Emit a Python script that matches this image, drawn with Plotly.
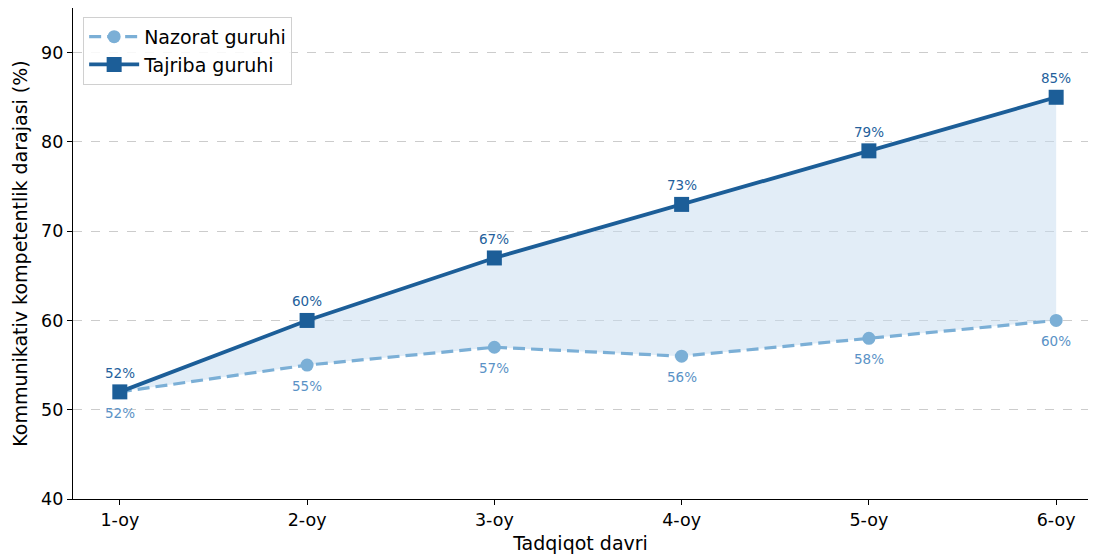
import plotly.graph_objects as go

months = ["1-oy", "2-oy", "3-oy", "4-oy", "5-oy", "6-oy"]
nazorat = [52, 55, 57, 56, 58, 60]
tajriba = [52, 60, 67, 73, 79, 85]
y_ticks = [40, 50, 60, 70, 80, 90]

c_taj = "#1c5e98"
c_naz = "#7bafd6"
c_taj_lbl = "#245f9c"
c_naz_lbl = "#5a92c6"
font = "DejaVu Sans"

x = list(range(len(months)))

fig = go.Figure()
# shaded area between the two groups
fig.add_trace(go.Scatter(x=x, y=nazorat, mode="lines", line=dict(width=0), showlegend=False, hoverinfo="skip"))
fig.add_trace(go.Scatter(x=x, y=tajriba, mode="lines", line=dict(width=0), fill="tonexty",
                         fillcolor="rgba(198,219,239,0.5)", showlegend=False, hoverinfo="skip"))
fig.add_trace(go.Scatter(x=x, y=nazorat, mode="lines+markers", name="Nazorat guruhi",
                         line=dict(color=c_naz, width=3.2, dash="12px,6px"),
                         marker=dict(symbol="circle", size=13, color=c_naz)))
fig.add_trace(go.Scatter(x=x, y=tajriba, mode="lines+markers", name="Tajriba guruhi",
                         line=dict(color=c_taj, width=3.8),
                         marker=dict(symbol="square", size=15, color=c_taj)))

for i, v in enumerate(tajriba):
    fig.add_annotation(x=i, y=v, text=f"{v}%", showarrow=False, yshift=19,
                       font=dict(family=font, size=13.5, color=c_taj_lbl))
for i, v in enumerate(nazorat):
    fig.add_annotation(x=i, y=v, text=f"{v}%", showarrow=False, yshift=-21,
                       font=dict(family=font, size=13.5, color=c_naz_lbl))

fig.update_layout(
    width=1080, height=548,
    margin=dict(l=65, r=0, t=0, b=57),
    paper_bgcolor="white", plot_bgcolor="white",
    font=dict(family=font, size=17, color="black"),
    legend=dict(x=0.01, y=0.982, xanchor="left", yanchor="top", traceorder="normal",
                bgcolor="rgba(255,255,255,0.85)", bordercolor="#d0d0d0", borderwidth=1,
                font=dict(family=font, size=19), tracegroupgap=0, itemwidth=50),
    xaxis=dict(tickmode="array", tickvals=x, ticktext=months, range=[-0.25, 5.17],
               showgrid=False, zeroline=False, showline=True, linecolor="black", linewidth=1.2,
               mirror=True, ticks="outside", ticklen=5, tickcolor="black",
               title=dict(text="Tadqiqot davri", font=dict(size=19), standoff=7),
               tickfont=dict(size=17.5)),
    yaxis=dict(range=[40, 95], tickvals=y_ticks, showgrid=True, gridcolor="#cccccc",
               griddash="dash", gridwidth=1, zeroline=False, showline=True, linecolor="black",
               linewidth=1.2, ticks="outside", ticklen=5, tickcolor="black",
               title=dict(text="Kommunikativ kompetentlik darajasi (%)", font=dict(size=19), standoff=8),
               tickfont=dict(size=17.5)),
)

fig.write_html("out.html")
